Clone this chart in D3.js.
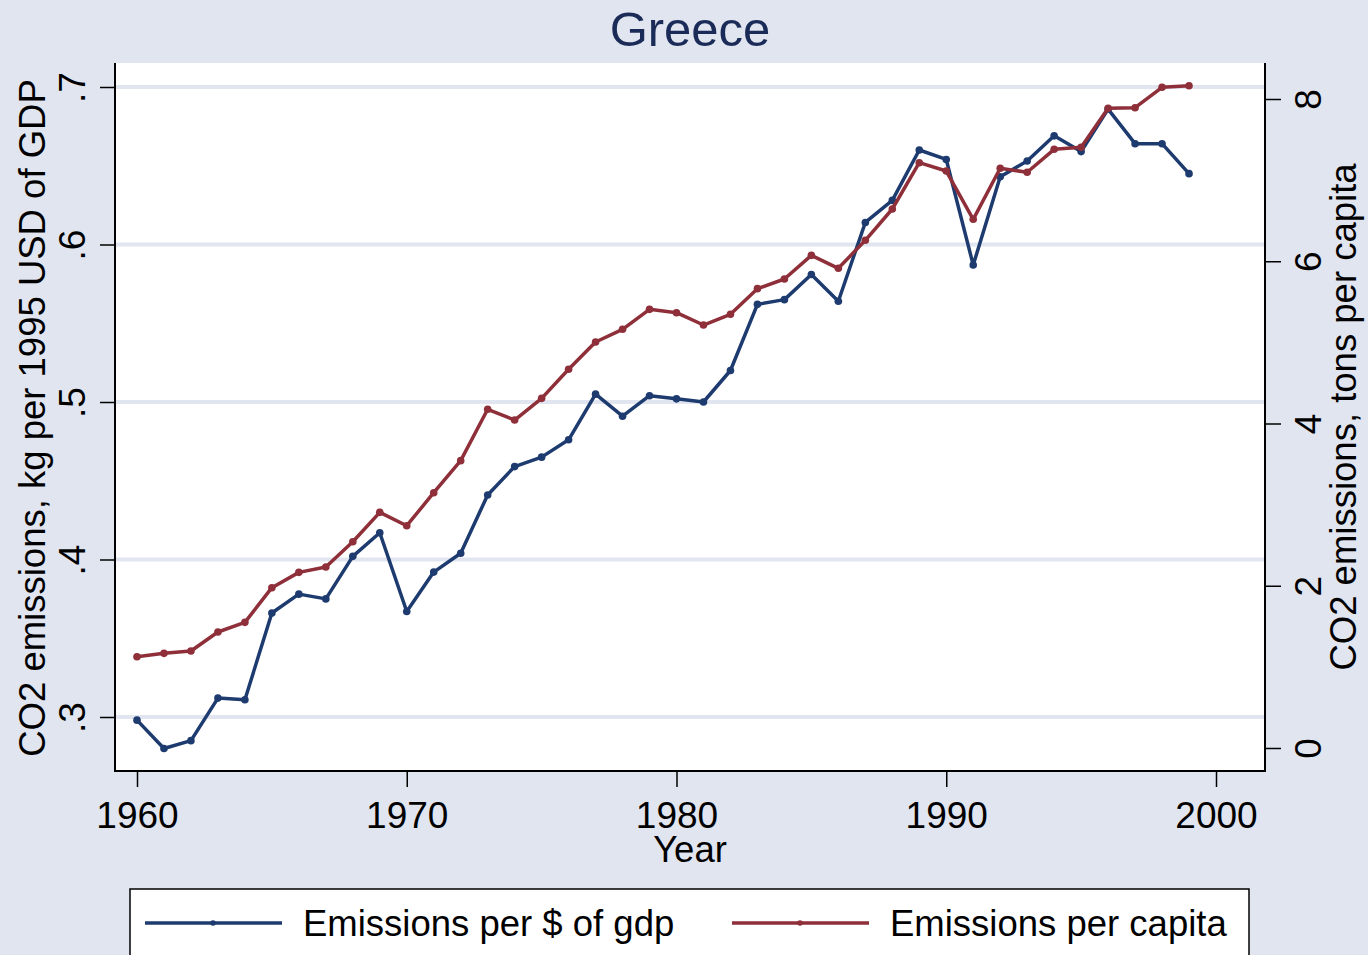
<!DOCTYPE html>
<html>
<head>
<meta charset="utf-8">
<script src="https://cdn.jsdelivr.net/npm/d3@7"></script>
<style>
  body { margin: 0; background: #E0E5F0; }
  svg text { font-family: "Liberation Sans", Arial, sans-serif; }
</style>
</head>
<body>
<div id="chart"></div>
<script>
var years = [1960, 1961, 1962, 1963, 1964, 1965, 1966, 1967, 1968, 1969,
             1970, 1971, 1972, 1973, 1974, 1975, 1976, 1977, 1978, 1979,
             1980, 1981, 1982, 1983, 1984, 1985, 1986, 1987, 1988, 1989,
             1990, 1991, 1992, 1993, 1994, 1995, 1996, 1997, 1998, 1999];
// kg CO2 per 1995 USD of GDP (left axis)
var perGdp = [0.298, 0.280, 0.285, 0.312, 0.311, 0.366, 0.378, 0.375, 0.402, 0.417,
              0.367, 0.392, 0.404, 0.441, 0.459, 0.465, 0.476, 0.505, 0.491, 0.504,
              0.502, 0.500, 0.520, 0.562, 0.565, 0.581, 0.564, 0.614, 0.628, 0.660,
              0.654, 0.587, 0.643, 0.653, 0.669, 0.659, 0.686, 0.664, 0.664, 0.645];
// tons per capita (right axis)
var perCapita = [1.125, 1.167, 1.196, 1.430, 1.549, 1.976, 2.165, 2.231, 2.543, 2.905,
                 2.740, 3.147, 3.542, 4.175, 4.043, 4.310, 4.668, 5.005, 5.161, 5.407,
                 5.366, 5.214, 5.346, 5.662, 5.781, 6.073, 5.913, 6.258, 6.644, 7.215,
                 7.112, 6.517, 7.146, 7.097, 7.380, 7.404, 7.885, 7.893, 8.144, 8.164];
var xTicks = [1960, 1970, 1980, 1990, 2000];
var leftTicks = [0.3, 0.4, 0.5, 0.6, 0.7];
var leftLabels = [".3", ".4", ".5", ".6", ".7"];
var rightTicks = [0, 2, 4, 6, 8];
var seriesNames = ["Emissions per $ of gdp", "Emissions per capita"];

var W = 1368, H = 955,
BG = "#E0E5F0",
BLUE = "#1E3B6F",
RED = "#8E2F39",
PL = 115, PR = 1265, PT = 63, PB = 771,
FS = 36.5;

var svg = d3.select("#chart").append("svg")
  .attr("width", W)
  .attr("height", H);

svg.append("rect").attr("width", W).attr("height", H).attr("fill", BG);
// plot region
svg.append("rect")
  .attr("x", PL).attr("y", PT)
  .attr("width", PR - PL).attr("height", PB - PT)
  .attr("fill", "white");

var x = d3.scaleLinear().domain([1960, 2000]).range([137, 1216]);
var yL = d3.scaleLinear().domain([0.3, 0.7]).range([717, 87]);
var yR = d3.scaleLinear().domain([0, 8]).range([748, 99]);

// grid lines
svg.append("g").selectAll("line")
  .data(leftTicks)
  .join("line")
  .attr("x1", PL).attr("x2", PR)
  .attr("y1", d => yL(d)).attr("y2", d => yL(d))
  .attr("stroke", BG)
  .attr("stroke-width", 4);

function styleAxis(g) {
  g.select(".domain").remove();
  g.selectAll(".tick line").attr("stroke", "black").attr("stroke-width", 1.5);
  g.selectAll(".tick text")
    .attr("fill", "black")
    .style("font-size", "37px")
    .style("font-family", '"Liberation Sans", Arial, sans-serif');
}

// bottom axis
var gx = svg.append("g")
  .attr("transform", "translate(0," + PB + ")")
  .call(d3.axisBottom(x).tickValues(xTicks).tickFormat(d3.format("d")).tickSize(16).tickPadding(0));
styleAxis(gx);
gx.selectAll(".tick text").attr("y", 57).attr("dy", null);

// left axis
var gl = svg.append("g")
  .attr("transform", "translate(" + PL + ",0)")
  .call(d3.axisLeft(yL).tickValues(leftTicks).tickFormat((d, i) => leftLabels[i]).tickSize(15));
styleAxis(gl);
gl.selectAll(".tick text")
  .attr("x", null).attr("dy", null)
  .attr("text-anchor", "middle")
  .attr("transform", "translate(-30,0) rotate(-90)");

// right axis
var gr = svg.append("g")
  .attr("transform", "translate(" + PR + ",0)")
  .call(d3.axisRight(yR).tickValues(rightTicks).tickFormat(d3.format("d")).tickSize(16));
styleAxis(gr);
gr.selectAll(".tick text")
  .attr("x", null).attr("dy", null)
  .attr("text-anchor", "middle")
  .attr("transform", "translate(56,0) rotate(-90)");

// axis lines
svg.append("line").attr("x1", PL).attr("x2", PL).attr("y1", PT).attr("y2", PB + 1)
  .attr("stroke", "black").attr("stroke-width", 2);
svg.append("line").attr("x1", PR).attr("x2", PR).attr("y1", PT).attr("y2", PB + 1)
  .attr("stroke", "black").attr("stroke-width", 2);
svg.append("line").attr("x1", PL).attr("x2", PR).attr("y1", PB).attr("y2", PB)
  .attr("stroke", "black").attr("stroke-width", 2);

// series
var rows = years.map((yr, i) => ({ year: yr, gdp: perGdp[i], cap: perCapita[i] }));

function drawSeries(key, scale, color) {
  var line = d3.line().x(d => x(d.year)).y(d => scale(d[key]));
  svg.append("path")
    .datum(rows)
    .attr("d", line)
    .attr("fill", "none")
    .attr("stroke", color)
    .attr("stroke-width", 3.5)
    .attr("stroke-linejoin", "round");
  svg.append("g").selectAll("circle")
    .data(rows)
    .join("circle")
    .attr("cx", d => x(d.year))
    .attr("cy", d => scale(d[key]))
    .attr("r", 3.8)
    .attr("fill", color);
}
drawSeries("gdp", yL, BLUE);
drawSeries("cap", yR, RED);

// titles
svg.append("text")
  .attr("x", 690).attr("y", 46)
  .attr("text-anchor", "middle")
  .style("font-size", "49px")
  .attr("fill", "#1B2B58")
  .text("Greece");

svg.append("text")
  .attr("x", 690).attr("y", 862)
  .attr("text-anchor", "middle")
  .style("font-size", FS + "px")
  .text("Year");

svg.append("text")
  .attr("transform", "translate(45,418) rotate(-90)")
  .attr("text-anchor", "middle")
  .style("font-size", FS + "px")
  .text("CO2 emissions, kg per 1995 USD of GDP");

svg.append("text")
  .attr("transform", "translate(1356,417) rotate(-90)")
  .attr("text-anchor", "middle")
  .style("font-size", FS + "px")
  .text("CO2 emissions, tons per capita");

// legend
var lg = svg.append("g");
lg.append("rect")
  .attr("x", 130).attr("y", 889)
  .attr("width", 1119).attr("height", 100)
  .attr("fill", "white")
  .attr("stroke", "black")
  .attr("stroke-width", 1.5);

var legendItems = [
  { name: seriesNames[0], color: BLUE, x0: 145 },
  { name: seriesNames[1], color: RED, x0: 732 }
];
legendItems.forEach(function(it) {
  lg.append("line")
    .attr("x1", it.x0).attr("x2", it.x0 + 137)
    .attr("y1", 923).attr("y2", 923)
    .attr("stroke", it.color).attr("stroke-width", 3.5);
  lg.append("circle")
    .attr("cx", it.x0 + 68).attr("cy", 923).attr("r", 2.8)
    .attr("fill", it.color);
  lg.append("text")
    .attr("x", it.x0 + 158).attr("y", 936)
    .style("font-size", FS + "px")
    .text(it.name);
});
</script>
</body>
</html>
